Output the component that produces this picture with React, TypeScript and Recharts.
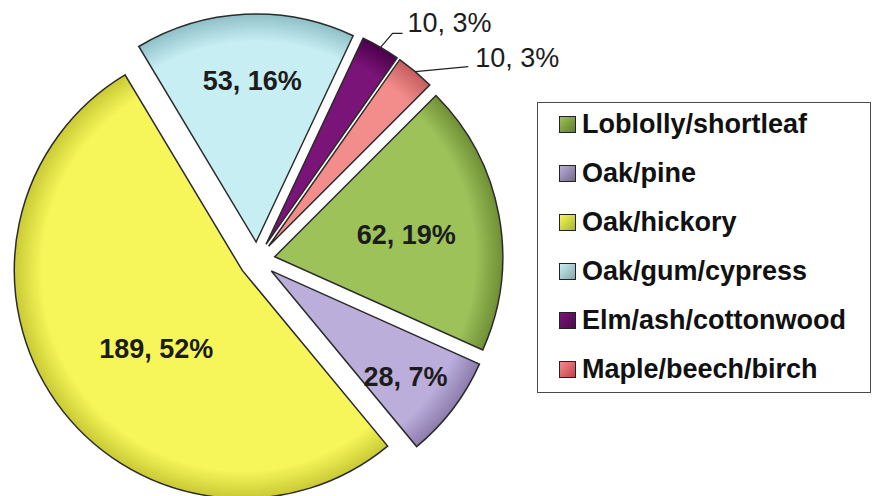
import React from "react";
import { PieChart, Pie, Cell, Legend } from "recharts";

const NAMES = ["Loblolly/shortleaf", "Oak/pine", "Oak/hickory", "Oak/gum/cypress", "Elm/ash/cottonwood", "Maple/beech/birch"];
const COUNTS = [62, 28, 189, 53, 10, 10];
// percent shown in each label
const PERCENTS = [19, 7, 52, 16, 3, 3];
// slice sizes
const SHARES = [19.2, 7.3, 52.4, 15.6, 2.75, 2.75];

const FILLS = ["#9dc25a", "#bcaedb", "#f6f65a", "#c6eef3", "#7a1478", "#f28d8c"];
const RIMS = ["#6f8f35", "#8b7cad", "#c9c936", "#8fc0c7", "#4a004a", "#c55d5d"];
const KEYS = ["#5f7f25", "#6f6a88", "#a9b62a", "#86a9ab", "#4e0a4c", "#c2404c"];

const W = 875;
const H = 496;
const CX = 257;
const CY = 260;
const R = 228;
const EXPLODE = 18;
const START = 45;
const FONT = '"Liberation Sans", Arial, sans-serif';
const RAD = Math.PI / 180;

const data = NAMES.map((name, i) => ({ name, count: COUNTS[i], share: SHARES[i] }));
const total = SHARES.reduce((a, b) => a + b, 0);

// mid angle of every slice, clockwise from START
const mids = SHARES.map((s, i) => {
  const before = SHARES.slice(0, i).reduce((a, b) => a + b, 0);
  return START - ((before + s / 2) / total) * 360;
});
// each slice is pushed out along its mid angle
const tips = mids.map((m) => ({
  x: CX + EXPLODE * Math.cos(m * RAD),
  y: CY - EXPLODE * Math.sin(m * RAD),
}));

// inside labels sit at a fraction of the radius (da nudges the angle), the two thin ones get a leader line
const LABEL_POS: any[] = [
  { r: 0.585, da: -1 },
  { r: 0.75, da: -1 },
  { r: 0.51, da: 7 },
  { r: 0.71, da: -1.5 },
  { elbow: [12, -14], run: 10, gap: 5, lift: -11 },
  { elbow: [53, -5], run: 0, gap: 7, lift: -9 },
];

const renderLabel = (i: number) => (props: any) => {
  if (props.index !== i) return null;
  const m = mids[i];
  const t = tips[i];
  const p = LABEL_POS[i];
  const text = `${COUNTS[i]}, ${PERCENTS[i]}%`;
  if (p.r !== undefined) {
    const a = (m + p.da) * RAD;
    return (
      <text x={t.x + R * p.r * Math.cos(a)} y={t.y - R * p.r * Math.sin(a)} dy="0.35em" textAnchor="middle"
        fontFamily={FONT} fontWeight={700} fontSize={27} fill="#1c1c1c">
        {text}
      </text>
    );
  }
  const sx = t.x + R * Math.cos(m * RAD);
  const sy = t.y - R * Math.sin(m * RAD);
  const ex = sx + p.elbow[0];
  const ey = sy + p.elbow[1];
  const fx = ex + p.run;
  return (
    <g>
      <polyline points={`${sx},${sy} ${ex},${ey} ${fx},${ey}`} fill="none" stroke="#222" strokeWidth={1.2} />
      <text x={fx + p.gap} y={ey + p.lift} dy="0.35em" textAnchor="start"
        fontFamily={FONT} fontSize={27} fill="#1c1c1c">
        {text}
      </text>
    </g>
  );
};

const LegendBox = () => (
  <div style={{
    width: 334, height: 291, boxSizing: "border-box", border: "1.5px solid #4a4a4a", background: "#fff",
    fontFamily: FONT, fontWeight: 700, fontSize: 27, color: "#111",
  }}>
    {NAMES.map((n, i) => (
      <div key={n} style={{ display: "flex", alignItems: "center", height: 49, marginTop: i === 0 ? -3 : 0, paddingLeft: 21, whiteSpace: "nowrap" }}>
        <span style={{
          display: "inline-block", width: 17, height: 17, boxSizing: "border-box", border: "1.5px solid #222",
          background: `linear-gradient(135deg, ${FILLS[i]}, ${KEYS[i]})`, marginRight: 6, flex: "none",
        }} />
        <span>{n}</span>
      </div>
    ))}
  </div>
);

export default function App() {
  return (
    <div style={{ position: "absolute", left: 0, top: 0, width: W, height: H, background: "#fff" }}>
      <PieChart width={W} height={H} margin={{ top: 0, right: 0, bottom: 0, left: 0 }}>
        <defs>
          {tips.map((t, i) => (
            <radialGradient key={i} id={`slice${i}`} gradientUnits="userSpaceOnUse" cx={t.x} cy={t.y} r={R}>
              <stop offset="0%" stopColor={FILLS[i]} />
              <stop offset="88%" stopColor={FILLS[i]} />
              <stop offset="100%" stopColor={RIMS[i]} />
            </radialGradient>
          ))}
        </defs>
        {NAMES.map((name, i) => (
          <Pie
            key={name}
            data={data}
            dataKey="share"
            nameKey="name"
            cx={tips[i].x}
            cy={tips[i].y}
            outerRadius={R}
            startAngle={START}
            endAngle={START - 360}
            isAnimationActive={false}
            labelLine={false}
            label={renderLabel(i)}
            legendType="none"
          >
            {data.map((d, j) => (
              <Cell
                key={d.name}
                fill={j === i ? `url(#slice${i})` : "none"}
                stroke={j === i ? "#2b2b2b" : "none"}
                strokeWidth={1.5}
              />
            ))}
          </Pie>
        ))}
        <Legend content={<LegendBox />} wrapperStyle={{ position: "absolute", left: 537, top: 102, width: 334, height: 291, bottom: "auto" }} />
      </PieChart>
    </div>
  );
}
